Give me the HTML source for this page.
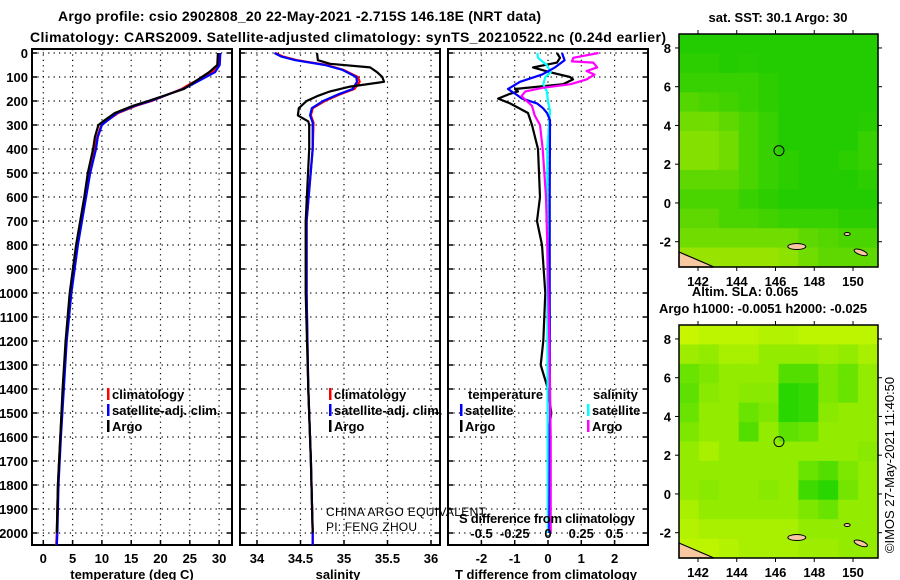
<!DOCTYPE html>
<html><head><meta charset="utf-8"><style>
html,body{margin:0;padding:0;background:#fff;}
svg{display:block;font-family:"Liberation Sans",sans-serif;}
.b{font-weight:bold;}
</style></head><body>
<svg id="c" width="900" height="580" viewBox="0 0 900 580"></svg>
<script>
// ---------- data ----------
const depthTicks=[0,100,200,300,400,500,600,700,800,900,1000,1100,1200,1300,1400,1500,1600,1700,1800,1900,2000];
const tempTicks=[0,5,10,15,20,25,30];
const salTicks=[34,34.5,35,35.5,36];
const tdiffTicks=[-2,-1,0,1,2];
const sdiffTicks=[-0.5,-0.25,0,0.25,0.5];
const sdiffLabels=["-0.5","-0.25","0","0.25","0.5"];
const lonTicks=[142,144,146,148,150];
const latTicks=[8,6,4,2,0,-2];

const tArgoDepth=[0,50,80,130,150,200,220,250,280,300,350,400,500,600,700,800,1000,1200,1400,1600,1800,2000];
const tArgo=[29.8,29.7,28.3,25.2,24.0,17.9,15.3,12.2,10.5,9.4,8.8,8.5,7.6,7.0,6.3,5.6,4.5,3.8,3.3,2.9,2.5,2.3];
const tClimDepth=[0,50,80,130,150,200,220,250,280,300,350,400,500,600,700,800,1000,1200,1400,1600,1800,2000,2050];
const tClim=[29.9,29.8,28.8,25.0,23.6,18.5,15.8,12.8,11.0,9.9,9.2,8.8,7.8,7.1,6.4,5.7,4.6,3.9,3.4,2.9,2.5,2.3,2.2];
const tSat=[30.2,30.1,29.3,25.5,23.8,18.3,15.6,12.6,11.0,10.0,9.3,9.0,8.0,7.3,6.6,5.9,4.8,4.0,3.5,3.0,2.6,2.4,2.3];

const sArgoDepth=[0,30,45,60,80,100,120,140,160,180,200,230,260,285,300,400,700,1000,1400,1700,2000];
const sArgo=[34.69,34.70,34.84,35.30,35.38,35.44,35.46,35.07,34.84,34.69,34.57,34.48,34.47,34.59,34.60,34.60,34.56,34.56,34.59,34.62,34.64];
const sClimDepth=[0,15,30,50,70,100,120,150,170,200,230,260,290,400,700,1000,1400,1700,2000,2050];
const sClim=[34.21,34.30,34.46,34.80,34.99,35.16,35.18,35.12,34.97,34.78,34.64,34.62,34.65,34.64,34.57,34.57,34.59,34.62,34.64,34.64];
const sSat=[34.20,34.28,34.44,34.78,34.98,35.14,35.15,35.10,34.95,34.76,34.63,34.61,34.64,34.64,34.57,34.57,34.59,34.62,34.64,34.64];

const dTArgoDepth=[0,20,40,60,80,100,110,130,150,160,170,190,210,250,300,400,600,700,800,1000,1200,1300,1400,1500,1600,1900];
const dTArgo=[0.27,0.36,0.27,-0.45,0.06,0.66,0.75,0.45,-0.99,-0.9,-1.14,-1.5,-1.14,-0.6,-0.48,-0.3,-0.24,-0.33,-0.18,-0.08,-0.14,-0.22,0.0,0.1,0.0,0.0];
const dTSatDepth=[0,30,60,90,120,150,175,190,210,230,250,280,600,1000,1500,2000];
const dTSat=[0.42,0.5,0.21,-0.18,-0.84,-1.2,-0.93,-0.78,-0.33,-0.15,-0.03,0.06,0.05,0.05,0.06,0.04];
const dSSatDepth=[0,20,50,80,100,130,160,200,240,400,1000,1500,2000];
const dSSat=[-0.08,-0.075,-0.01,0.02,-0.02,-0.035,-0.01,0.0,0.015,-0.005,-0.005,-0.003,0.0];
const dSArgoDepth=[0,20,35,40,60,75,90,110,130,145,160,180,220,260,300,400,600,800,1200,1600,2000];
const dSArgo=[0.38,0.19,0.18,0.34,0.37,0.29,0.35,0.29,0.17,-0.04,-0.17,-0.2,-0.12,-0.1,-0.06,-0.04,-0.015,-0.005,0.01,0.02,0.02];

// coarse map fields (0 = green, 1 = yellow-green), rows from north to south
const sstField=[
[0.1,0.1,0.1,0.1,0.1,0.1,0.1,0.1,0.1,0.1],
[0.15,0.15,0.1,0.12,0.1,0.1,0.1,0.1,0.1,0.1],
[0.2,0.2,0.2,0.2,0.15,0.1,0.1,0.1,0.1,0.1],
[0.35,0.3,0.25,0.2,0.15,0.1,0.1,0.1,0.1,0.1],
[0.5,0.5,0.4,0.3,0.2,0.1,0.1,0.1,0.1,0.12],
[0.6,0.6,0.5,0.3,0.2,0.1,0.1,0.1,0.1,0.2],
[0.6,0.6,0.5,0.3,0.2,0.15,0.1,0.1,0.15,0.2],
[0.4,0.4,0.4,0.3,0.2,0.15,0.1,0.1,0.1,0.15],
[0.3,0.3,0.3,0.2,0.15,0.1,0.1,0.1,0.1,0.1],
[0.4,0.4,0.3,0.3,0.25,0.2,0.2,0.2,0.15,0.15],
[0.5,0.5,0.5,0.5,0.5,0.5,0.4,0.35,0.3,0.3],
[0.7,0.7,0.7,0.7,0.7,0.65,0.5,0.4,0.4,0.4]];
const slaField=[
[0.05,0.1,0.1,0.1,0.15,0.15,0.1,0.1,0.1,0.1],
[0.25,0.3,0.2,0.2,0.3,0.3,0.3,0.25,0.3,0.2],
[0.5,0.4,0.3,0.3,0.3,0.6,0.6,0.4,0.5,0.3],
[0.55,0.35,0.3,0.35,0.35,0.8,0.75,0.4,0.5,0.3],
[0.5,0.3,0.3,0.5,0.4,0.8,0.75,0.35,0.3,0.3],
[0.4,0.3,0.3,0.6,0.3,0.55,0.5,0.3,0.3,0.3],
[0.3,0.2,0.3,0.3,0.3,0.3,0.3,0.3,0.3,0.35],
[0.3,0.3,0.3,0.3,0.3,0.3,0.5,0.6,0.4,0.3],
[0.3,0.35,0.3,0.3,0.35,0.3,0.7,0.8,0.45,0.3],
[0.2,0.3,0.3,0.3,0.3,0.3,0.4,0.5,0.3,0.3],
[0.15,0.2,0.2,0.2,0.2,0.2,0.3,0.3,0.3,0.3],
[0.1,0.1,0.15,0.2,0.2,0.2,0.25,0.25,0.3,0.3]];
const argoLon=146.18, argoLat=2.7;

// ---------- helpers ----------
const NS="http://www.w3.org/2000/svg";
const svg=document.getElementById('c');
function el(tag,attrs,parent){const e=document.createElementNS(NS,tag);for(const k in attrs)e.setAttribute(k,attrs[k]);(parent||svg).appendChild(e);return e;}
function txt(s,x,y,attrs,parent){const e=el('text',Object.assign({x:x,y:y,'font-size':13,fill:'#000'},attrs),parent);e.textContent=s;return e;}

const PT=53, PB=545, yD=d=>53+d*0.24;
const panels=[{x0:32,x1:232},{x0:240,x1:440},{x0:448,x1:648}];
const xT=t=>43.3+t*5.86;
const xS=s=>257+(s-34)*87;
const xDT=v=>548+v*33.3;
const xDS=v=>548+v*133;

function line(xs,ds,xf,color,name,g){
  const p=el('polyline',{points:xs.map((v,i)=>xf(v).toFixed(1)+','+yD(ds[i]).toFixed(1)).join(' '),fill:'none',stroke:color,'stroke-width':2.2,'stroke-linejoin':'round'},g);
  
  
}

// titles
let t1=txt('Argo profile: csio 2902808_20 22-May-2021 -2.715S 146.18E (NRT data)',58,21,{'font-size':14,'class':'b',textLength:483});


let t2=txt('Climatology: CARS2009. Satellite-adjusted climatology: synTS_20210522.nc (0.24d earlier)',30,42,{'font-size':14,'class':'b',textLength:636});



// panels frames + grids
panels.forEach((p,i)=>{
  const g=el('g',{});
  
  
  depthTicks.forEach(d=>{
    const l=el('line',{x1:p.x0,x2:p.x1,y1:yD(d),y2:yD(d),stroke:'#000','stroke-width':1.2,'stroke-dasharray':'1.2 4.2'},g);
    
    
    el('line',{x1:p.x0,x2:p.x0+5,y1:yD(d),y2:yD(d),stroke:'#000','stroke-width':1.5},g);
    el('line',{x1:p.x1-5,x2:p.x1,y1:yD(d),y2:yD(d),stroke:'#000','stroke-width':1.5},g);
  });
  const r=el('rect',{x:p.x0,y:PT-4,width:p.x1-p.x0,height:PB-PT+4,fill:'none',stroke:'#000','stroke-width':2},g);
  
  
});
// depth labels
depthTicks.forEach(d=>{
  const t=txt(String(d),28,yD(d)+5,{'text-anchor':'end','class':'b'});
  
  
});
function xgrid(ticks,labels,xf,p,ly){
  ticks.forEach((v,i)=>{
    const l=el('line',{x1:xf(v),x2:xf(v),y1:PT-4,y2:PB,stroke:'#000','stroke-width':1.2,'stroke-dasharray':'1.2 4.2'});
    
    
    el('line',{x1:xf(v),x2:xf(v),y1:PB-5,y2:PB,stroke:'#000','stroke-width':1.5});
    const t=txt(labels[i],xf(v),ly,{'text-anchor':'middle','class':'b'});
    
    
  });
}
xgrid(tempTicks,tempTicks.map(String),xT,panels[0],563);
xgrid(salTicks,salTicks.map(String),xS,panels[1],563);
xgrid(tdiffTicks,tdiffTicks.map(String),xDT,panels[2],563);
let a1=txt('temperature (deg C)',132,579,{'text-anchor':'middle','class':'b'});

let a2=txt('salinity',338,579,{'text-anchor':'middle','class':'b'});

let a3=txt('T difference from climatology',546,579,{'text-anchor':'middle','class':'b'});


// series
line(tClim,tClimDepth,xT,'#ff0000','temperature-climatology-line');
line(tSat,tClimDepth,xT,'#0000ff','temperature-satellite-line');
line(tArgo,tArgoDepth,xT,'#000000','temperature-argo-line');
line(sClim,sClimDepth,xS,'#ff0000','salinity-climatology-line');
line(sSat,sClimDepth,xS,'#0000ff','salinity-satellite-line');
line(sArgo,sArgoDepth,xS,'#000000','salinity-argo-line');
line(dTArgo,dTArgoDepth,xDT,'#000000','t-diff-argo-line');
line(dSSat,dSSatDepth,xDS,'#00ffff','s-diff-satellite-line');
line(dTSat,dTSatDepth,xDT,'#0000ff','t-diff-satellite-line');
line(dSArgo,dSArgoDepth,xDS,'#ff00ff','s-diff-argo-line');

// legends
function legend(x,y,color,label,name){
  const g=el('g',{});
  
  
  el('rect',{x:x,y:y-11,width:2.5,height:12,fill:color},g);
  txt(label,x+5,y,{'class':'b','font-size':13},g);
}
legend(107,399,'#ff0000','climatology','legend-climatology');
legend(107,415,'#0000ff','satellite-adj. clim.','legend-satellite-adj');
legend(107,431,'#000000','Argo','legend-argo');
legend(329,399,'#ff0000','climatology','legend-sal-climatology');
legend(329,415,'#0000ff','satellite-adj. clim.','legend-sal-satellite-adj');
legend(329,431,'#000000','Argo','legend-sal-argo');
let lt=txt('temperature',468,399,{'class':'b'});
let ls=txt('salinity',593,399,{'class':'b'});
legend(460,415,'#0000ff','satellite','legend-t-satellite');
legend(460,431,'#000000','Argo','legend-t-argo');
legend(587,415,'#00ffff','satellite','legend-s-satellite');
legend(587,431,'#ff00ff','Argo','legend-s-argo');
let sdt=txt('S difference from climatology',459,523,{'class':'b',textLength:176});

sdiffTicks.forEach((v,i)=>{
  const t=txt(sdiffLabels[i],xDS(v),538,{'text-anchor':'middle','class':'b'});
  
  
});
let c1=txt('CHINA ARGO EQUIVALENT',326,516,{'font-size':12,textLength:160});

let c2=txt('PI: FENG ZHOU',326,531,{'font-size':12,textLength:91});


// ---------- maps ----------
const mx0=679,mx1=878,lon0=141.02,lonS=19.375,lat0=8.72;
const mX=lon=>mx0+(lon-lon0)*lonS;
function mixc(a,b,t){return 'rgb('+a.map((v,i)=>Math.round(v+(b[i]-v)*t)).join(',')+')';}
function drawMap(top,field,c0,c1,name,title,subtitle){
  const mY=lat=>top+(lat0-lat)*lonS;
  const g=el('g',{});
  
  
  const rows=field.length, cols=field[0].length;
  const cw=(mx1-mx0)/cols, chh=233/rows;
  field.forEach((row,r)=>row.forEach((v,c)=>{
    const cell=el('rect',{x:(mx0+c*cw).toFixed(2),y:(top+r*chh).toFixed(2),width:(cw+0.6).toFixed(2),height:(chh+0.6).toFixed(2),fill:mixc(c0,c1,v)},g);
    
    
  }));
  // land
  el('polygon',{points:`${mx0},${top+218} ${mx0+35},${top+233} ${mx0},${top+233}`,fill:'#f8c8a0',stroke:'#000','stroke-width':1.2},g);
  el('ellipse',{cx:mX(147.1),cy:mY(-2.25),rx:9,ry:3,fill:'#f8c8a0',stroke:'#000','stroke-width':1},g);
  el('ellipse',{cx:mX(150.4),cy:mY(-2.55),rx:7,ry:2.5,fill:'#f8c8a0',stroke:'#000','stroke-width':1,transform:`rotate(20 ${mX(150.4)} ${mY(-2.55)})`},g);
  el('ellipse',{cx:mX(149.7),cy:mY(-1.6),rx:3,ry:1.5,fill:'#f8c8a0',stroke:'#000','stroke-width':1},g);
  const m=el('circle',{cx:mX(argoLon),cy:mY(argoLat),r:5,fill:'none',stroke:'#000','stroke-width':1},g);
  
  
  el('rect',{x:mx0,y:top,width:mx1-mx0,height:233,fill:'none',stroke:'#000','stroke-width':1.5},g);
  lonTicks.forEach(l=>{
    el('line',{x1:mX(l),x2:mX(l),y1:top-4,y2:top,stroke:'#000'},g);
    el('line',{x1:mX(l),x2:mX(l),y1:top+233,y2:top+237,stroke:'#000'},g);
    txt(String(l),mX(l),top+252,{'text-anchor':'middle','class':'b','font-size':13},g);
  });
  latTicks.forEach(l=>{
    el('line',{x1:mx0-4,x2:mx0,y1:mY(l),y2:mY(l),stroke:'#000'},g);
    el('line',{x1:mx1,x2:mx1+4,y1:mY(l),y2:mY(l),stroke:'#000'},g);
    txt(String(l),mx0-8,mY(l)+5,{'text-anchor':'end','class':'b','font-size':13},g);
  });
}
drawMap(34,sstField,[16,200,0],[210,240,0],'sst-map');
drawMap(325,slaField,[210,248,0],[0,205,0],'sla-map');
let m1=txt('sat. SST: 30.1 Argo: 30',778,22,{'text-anchor':'middle','class':'b'});

let m2=txt('Altim. SLA: 0.065',745,296,{'text-anchor':'middle','class':'b'});

let m3=txt('Argo h1000: -0.0051 h2000: -0.025',763,313,{'text-anchor':'middle','class':'b'});

let cp=txt('©IMOS 27-May-2021 11:40:50',0,0,{'font-size':13,'text-anchor':'middle',transform:'translate(894,465) rotate(-90)'});

</script>
</body></html>
